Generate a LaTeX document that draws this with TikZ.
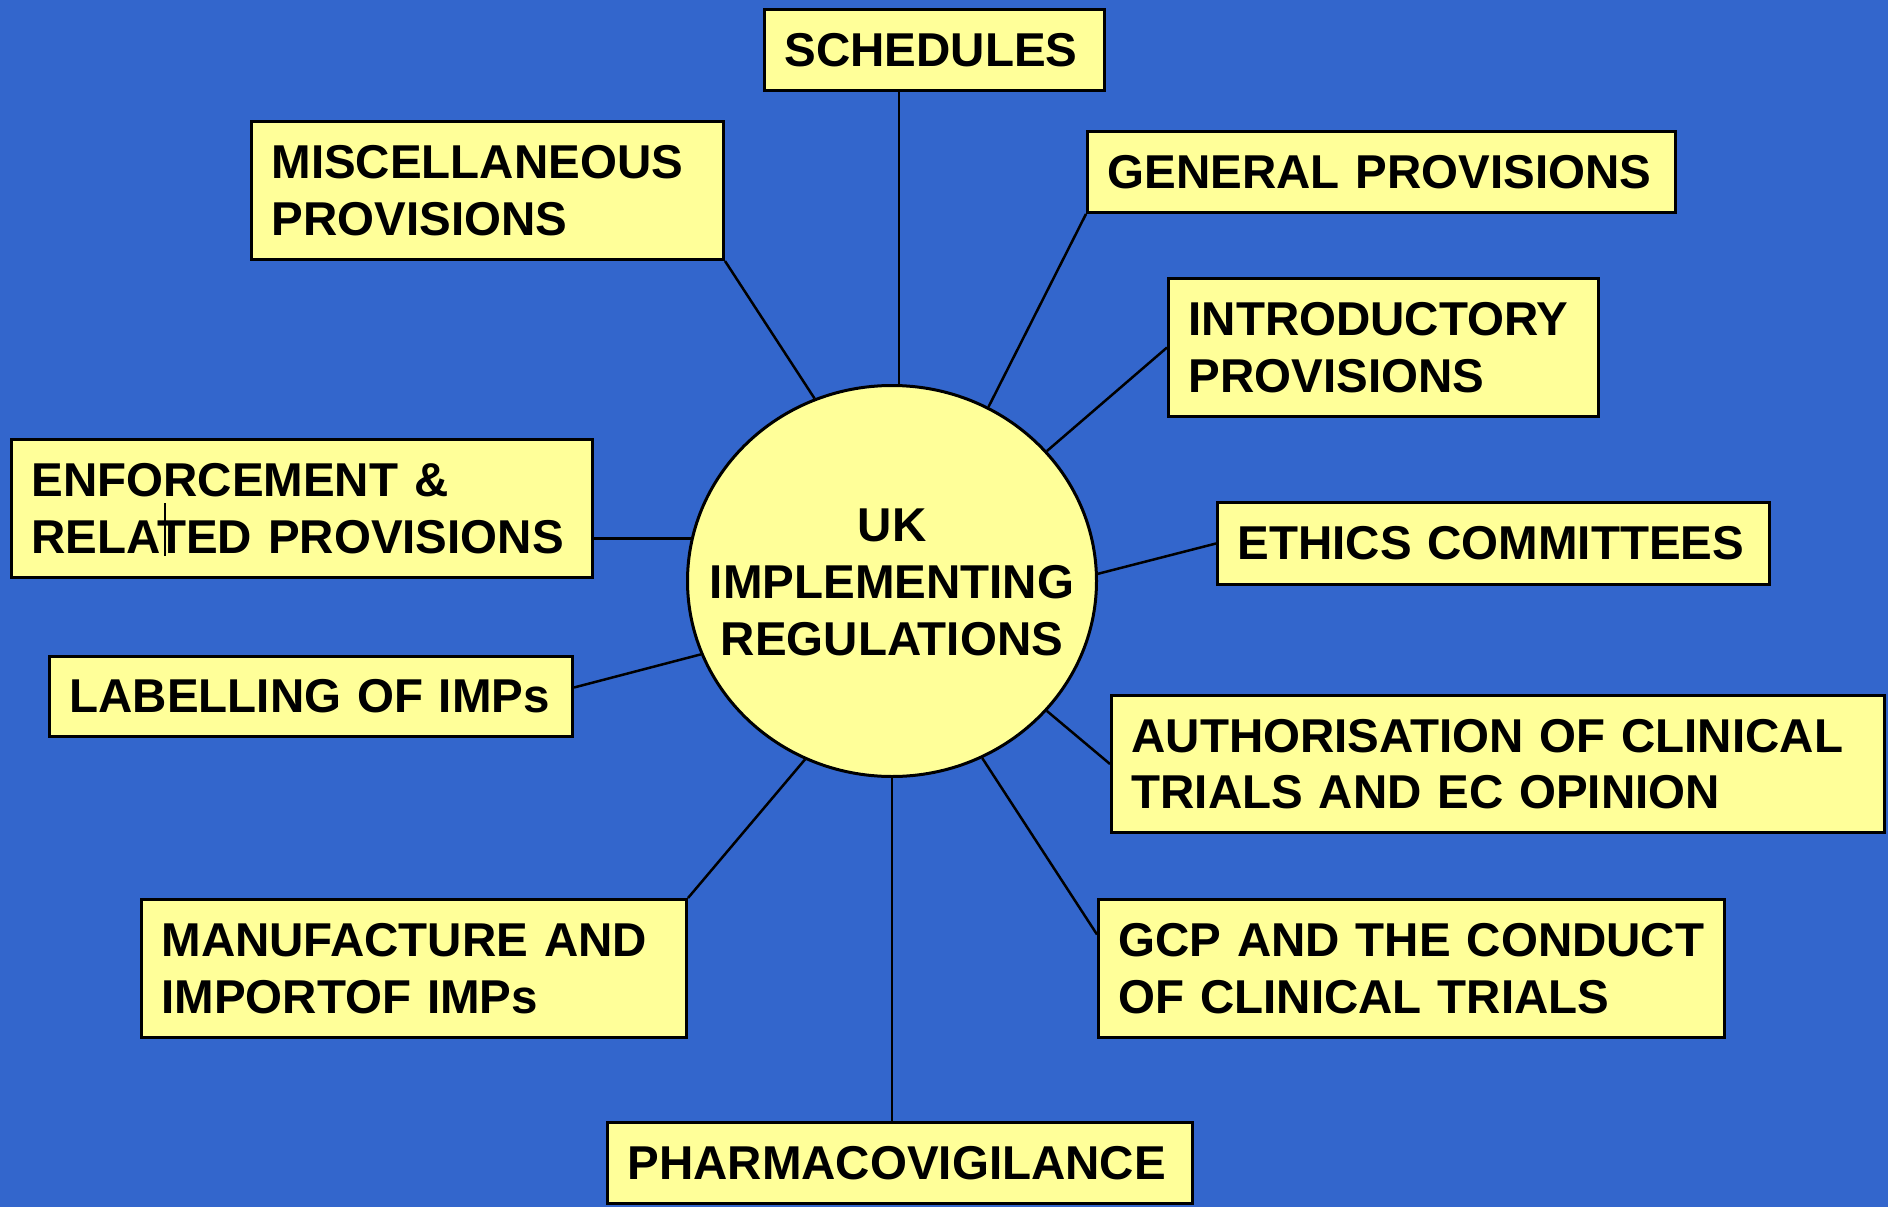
\documentclass[tikz,border=0pt]{standalone}
\usepackage{fontspec}
\setmainfont{Liberation Sans}
\usepackage{xcolor}
\definecolor{regblue}{HTML}{3366CC}
\definecolor{regyellow}{HTML}{FFFF99}
\usetikzlibrary{shapes.geometric}

\begin{document}
\begin{tikzpicture}[x=1pt,y=-1pt]
\tikzset{
 part/.style={draw=black,line width=3pt,fill=regyellow,anchor=north west,align=left,inner xsep=20pt,inner ysep=0pt,font=\fontsize{47.5}{56.6}\selectfont\bfseries},
 hub/.style={ellipse,draw=black,line width=3pt,fill=regyellow,minimum width=409pt,minimum height=391pt,inner sep=0pt,font=\fontsize{47.5}{57}\selectfont\bfseries},
 link/.style={line width=2.5pt}
}
% slide background
\fill[regblue] (0,0) rectangle (1888,1207);
\useasboundingbox (0,0) rectangle (1888,1207);

% zero-width box keeps the ellipse at its fixed size; shorter depth sets the text a bit lower
\node[hub] (uk) at (892,581) {\makebox[0pt]{\raisebox{0pt}[\height][\dimexpr\depth-12pt\relax]{\begin{tabular}{@{}c@{}}UK\\IMPLEMENTING\\REGULATIONS\end{tabular}}}};

\node[part,text width=300pt,minimum height=81pt] (sched) at (763,8) {SCHEDULES};
\node[part,text width=432pt,minimum height=138pt] (misc) at (250,120) {MISCELLANEOUS\\PROVISIONS};
\node[part,text width=548pt,minimum height=81pt] (gen) at (1086,130) {GENERAL PROVISIONS};
\node[part,text width=390pt,minimum height=138pt] (intro) at (1167,277) {INTRODUCTORY\\PROVISIONS};
\node[part,text width=541pt,minimum height=138pt] (enf) at (10,438) {ENFORCEMENT \&\\RELATED PROVISIONS};
\node[part,text width=512pt,minimum height=82pt] (eth) at (1216,501) {ETHICS COMMITTEES};
\node[part,text width=483pt,minimum height=80pt] (lab) at (48,655) {LABELLING OF IMPs};
\node[part,text width=733pt,minimum height=137pt] (auth) at (1110,694) {AUTHORISATION OF CLINICAL\\TRIALS AND EC OPINION};
\node[part,text width=505pt,minimum height=138pt] (manuf) at (140,898) {MANUFACTURE AND\\IMPORTOF IMPs};
\node[part,text width=586pt,minimum height=138pt] (gcp) at (1097,898) {GCP AND THE CONDUCT\\OF CLINICAL TRIALS};
\node[part,text width=545pt,minimum height=81pt] (pharma) at (606,1121) {PHARMACOVIGILANCE};

% spokes from the hub
\draw[link] (uk.88.5) -- (uk.88.5 |- sched.south);
\draw[link] (misc.south east) -- (uk.113);
\draw[link] (gen.south west) -- (uk.61);
\draw[link] (intro.west) -- (uk.40);
\draw[link] (uk.168) -- (uk.168 -| enf.east);
\draw[link] (eth.west) -- (uk.2.5);
\draw[link] ([yshift=9pt]lab.east) -- (uk.201);
\draw[link] (auth.west) -- (uk.-40);
\draw[link] (manuf.north east) -- (uk.244);
\draw[link] ([yshift=34pt]gcp.west) -- (uk.-63);
\draw[link] (uk.south) -- (uk.south |- pharma.north);

% text cursor mark
\draw[line width=1.5pt] (165,503) -- (165,556);
\end{tikzpicture}
\end{document}
